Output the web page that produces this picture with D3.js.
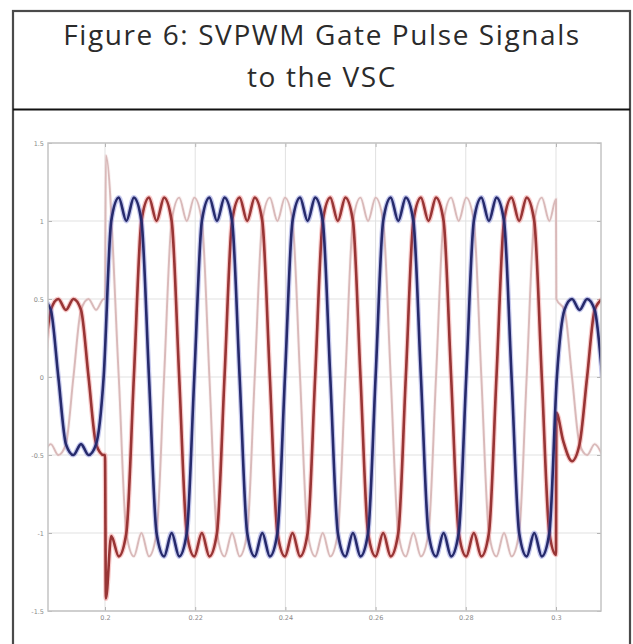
<!DOCTYPE html>
<html>
<head>
<meta charset="utf-8">
<script src="https://cdn.jsdelivr.net/npm/d3@7"></script>
<style>
    body { margin: 0; background: #ffffff; }
    .title { font-family: "Open Sans", sans-serif; font-size: 28px; fill: #2b2b2b; letter-spacing: 1.6px; }
    .tickLabel { font-family: "DejaVu Sans", sans-serif; font-size: 6.5px; fill: #8a8a8a; }
</style>
</head>
<body>
<div id="graph"></div>
<script>
//
// Data
//

// sample instants (s), one every 30 degrees of the fundamental
var time = [
    0.18630, 0.18798, 0.18965, 0.19133, 0.19300, 0.19468, 0.19635, 0.19803,
    0.19970, 0.20138, 0.20305, 0.20473, 0.20640, 0.20808, 0.20975, 0.21143,
    0.21310, 0.21478, 0.21645, 0.21813, 0.21980, 0.22148, 0.22315, 0.22483,
    0.22650, 0.22818, 0.22985, 0.23153, 0.23320, 0.23488, 0.23655, 0.23823,
    0.23990, 0.24158, 0.24325, 0.24493, 0.24660, 0.24828, 0.24995, 0.25163,
    0.25330, 0.25498, 0.25665, 0.25833, 0.26000, 0.26168, 0.26335, 0.26503,
    0.26670, 0.26838, 0.27005, 0.27173, 0.27340, 0.27508, 0.27675, 0.27843,
    0.28010, 0.28178, 0.28345, 0.28513, 0.28680, 0.28848, 0.29015, 0.29183,
    0.29350, 0.29518, 0.29685, 0.29853, 0.30020, 0.30188, 0.30355, 0.30523,
    0.30690, 0.30858, 0.31025
];

// blue trace
var phaseA = [
    0.5, 0.43, 0, -0.43, -0.5, -0.43, -0.5, -0.43,
    0, 1.0, 1.15, 1.0, 1.15, 1.0, 0, -1.0,
    -1.15, -1.0, -1.15, -1.0, 0, 1.0, 1.15, 1.0,
    1.15, 1.0, 0, -1.0, -1.15, -1.0, -1.15, -1.0,
    0, 1.0, 1.15, 1.0, 1.15, 1.0, 0, -1.0,
    -1.15, -1.0, -1.15, -1.0, 0, 1.0, 1.15, 1.0,
    1.15, 1.0, 0, -1.0, -1.15, -1.0, -1.15, -1.0,
    0, 1.0, 1.15, 1.0, 1.15, 1.0, 0, -1.0,
    -1.15, -1.0, -1.15, -1.0, 0, 0.43, 0.5, 0.43,
    0.5, 0.43, 0
];

// red trace (null = replaced by the switching transient)
var phaseB = [
    0, 0.43, 0.5, 0.43, 0.5, 0.43, 0, -0.43,
    -0.5, -1.02, -1.15, -1.0, 0, 1.0, 1.15, 1.0,
    1.15, 1.0, 0, -1.0, -1.15, -1.0, -1.15, -1.0,
    0, 1.0, 1.15, 1.0, 1.15, 1.0, 0, -1.0,
    -1.15, -1.0, -1.15, -1.0, 0, 1.0, 1.15, 1.0,
    1.15, 1.0, 0, -1.0, -1.15, -1.0, -1.15, -1.0,
    0, 1.0, 1.15, 1.0, 1.15, 1.0, 0, -1.0,
    -1.15, -1.0, -1.15, -1.0, 0, 1.0, 1.15, 1.0,
    1.15, 1.0, 0, -1.0, null, null, -0.54, -0.43,
    0, 0.43, 0.5
];

// light pink trace
var phaseC = [
    -0.5, -0.43, -0.5, -0.43, 0, 0.43, 0.5, 0.43,
    0.5, null, 0, -1.0, -1.15, -1.0, -1.15, -1.0,
    0, 1.0, 1.15, 1.0, 1.15, 1.0, 0, -1.0,
    -1.15, -1.0, -1.15, -1.0, 0, 1.0, 1.15, 1.0,
    1.15, 1.0, 0, -1.0, -1.15, -1.0, -1.15, -1.0,
    0, 1.0, 1.15, 1.0, 1.15, 1.0, 0, -1.0,
    -1.15, -1.0, -1.15, -1.0, 0, 1.0, 1.15, 1.0,
    1.15, 1.0, 0, -1.0, -1.15, -1.0, -1.15, -1.0,
    0, 1.0, 1.15, 1.0, null, 0.43, 0, -0.43,
    -0.5, -0.43, -0.5
];

// switching transients at 0.2 s and 0.3 s  [t, value]
var stepA = [];
var stepB = [ [0.2, -0.5], [0.2002, -1.42], [0.3, -1.14], [0.30008, -0.23], [0.3016, -0.41] ];
var stepC = [ [0.2, 0.5], [0.2002, 1.42], [0.3, 1.14], [0.30008, 0.5] ];

var xTicks = [0.2, 0.22, 0.24, 0.26, 0.28, 0.3];
var yTicks = [-1.5, -1, -0.5, 0, 0.5, 1, 1.5];
var titleLines = ['Figure 6: SVPWM Gate Pulse Signals', 'to the VSC'];


//
// D3 Stuff...
//
var pageW = 633, pageH = 644;
var margin = { top: 143, right: 32, bottom: 33, left: 48 };
var width  = pageW - margin.left - margin.right;
var height = pageH - margin.top  - margin.bottom;

var root = d3.select('div#graph')
             .append('svg')
             .attr('width', pageW)
             .attr('height', pageH);

// soft edge, the figure is a scan
root.append('defs')
    .append('filter').attr('id', 'soft')
    .append('feGaussianBlur').attr('stdDeviation', 0.45);

// outer frame + title strip
root.append('rect')
    .attr('x', 13).attr('y', 11)
    .attr('width', 617).attr('height', 700)
    .attr('fill', 'none')
    .attr('stroke', '#4a4a4a')
    .attr('stroke-width', 2.2);

root.append('line')
    .attr('x1', 13).attr('x2', 630)
    .attr('y1', 109.5).attr('y2', 109.5)
    .attr('stroke', '#111')
    .attr('stroke-width', 2);

root.selectAll('text.title')
    .data(titleLines)
    .enter()
    .append('text')
    .attr('class', 'title')
    .attr('x', 322)
    .attr('y', function (d, i) { return 45 + i * 42; })
    .attr('text-anchor', 'middle')
    .text(function (d) { return d; });

var svg = root.append('g')
              .attr('transform', 'translate(' + margin.left + ',' + margin.top + ')');

var xScale = d3.scaleLinear()
               .domain([0.18736, 0.30998])
               .range([0, width]);

var yScale = d3.scaleLinear()
               .domain([-1.5, 1.5])
               .range([height, 0]);

// grid
svg.selectAll('line.vgrid')
   .data(xTicks)
   .enter().append('line')
   .attr('x1', function (d) { return xScale(d); })
   .attr('x2', function (d) { return xScale(d); })
   .attr('y1', 0).attr('y2', height)
   .attr('stroke', '#e1e1e1').attr('stroke-width', 1);

svg.selectAll('line.hgrid')
   .data(yTicks)
   .enter().append('line')
   .attr('x1', 0).attr('x2', width)
   .attr('y1', function (d) { return yScale(d); })
   .attr('y2', function (d) { return yScale(d); })
   .attr('stroke', '#e1e1e1').attr('stroke-width', 1);

// axes, ticks pointing inward as in the scope plot
var xAxis = d3.axisBottom(xScale)
              .tickValues(xTicks)
              .tickSize(-4)
              .tickPadding(4)
              .tickFormat(function (d) { return String(d); });

var yAxis = d3.axisLeft(yScale)
              .tickValues(yTicks)
              .tickSize(-4)
              .tickPadding(4)
              .tickFormat(function (d) { return String(d); });

var xAxisTop = d3.axisTop(xScale)
                 .tickValues(xTicks)
                 .tickSize(-4)
                 .tickFormat('');

var yAxisRight = d3.axisRight(yScale)
                   .tickValues(yTicks)
                   .tickSize(-4)
                   .tickFormat('');

var gx = svg.append('g')
            .attr('transform', 'translate(0,' + height + ')')
            .call(xAxis);
var gy = svg.append('g').call(yAxis);
var gt = svg.append('g').call(xAxisTop);
var gr = svg.append('g')
            .attr('transform', 'translate(' + width + ',0)')
            .call(yAxisRight);

[gx, gy, gt, gr].forEach(function (g) {
    g.attr('font-size', null).attr('font-family', null);
    g.select('.domain').remove();
    g.selectAll('.tick line').attr('stroke', '#b5b5b5');
    g.selectAll('.tick text').attr('class', 'tickLabel').attr('fill', null);
});

// traces
svg.append('clipPath').attr('id', 'plotClip')
   .append('rect').attr('width', width).attr('height', height);

var buildSeries = function (values, steps)
{
    var pts = [];
    time.forEach(function (t, i) {
        if (values[i] !== null) pts.push({ t: t, v: values[i] });
    });
    steps.forEach(function (s) { pts.push({ t: s[0], v: s[1] }); });
    return pts.sort(function (a, b) { return a.t - b.t; });
};

var line = d3.line()
             .x(function (d) { return xScale(d.t); })
             .y(function (d) { return yScale(d.v); })
             .curve(d3.curveMonotoneX);

var traces = [
    { data: buildSeries(phaseC, stepC), halo: '#efd6d6', core: '#d9b9b9', hw: 3.5, cw: 1.9 },
    { data: buildSeries(phaseB, stepB), halo: '#ea6a6a', core: '#983434', hw: 5,   cw: 2.6 },
    { data: buildSeries(phaseA, stepA), halo: '#5a62cc', core: '#272b6c', hw: 5,   cw: 2.6 }
];

var plot = svg.append('g')
              .attr('clip-path', 'url(#plotClip)')
              .append('g')
              .attr('filter', 'url(#soft)');

traces.forEach(function (s) {
    plot.append('path')
        .datum(s.data)
        .attr('fill', 'none')
        .attr('stroke', s.halo)
        .attr('stroke-opacity', 0.35)
        .attr('stroke-width', s.hw)
        .attr('d', line);
    plot.append('path')
        .datum(s.data)
        .attr('fill', 'none')
        .attr('stroke', s.core)
        .attr('stroke-width', s.cw)
        .attr('stroke-linejoin', 'round')
        .attr('d', line);
});

// plot frame
svg.append('rect')
   .attr('width', width).attr('height', height)
   .attr('fill', 'none')
   .attr('stroke', '#c4c4c4')
   .attr('stroke-width', 1.5);
</script>
</body>
</html>
